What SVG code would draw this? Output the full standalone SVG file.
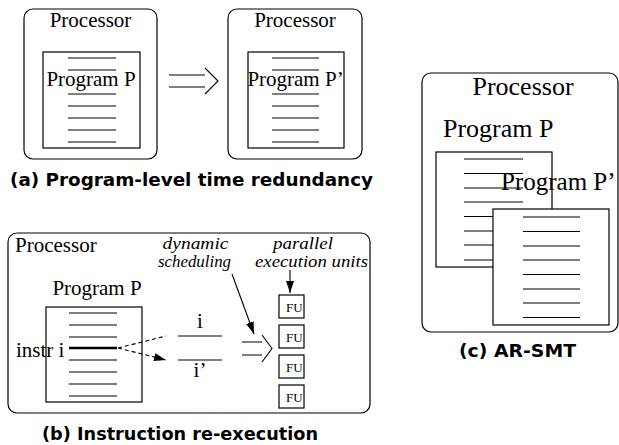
<svg xmlns="http://www.w3.org/2000/svg" width="619" height="445" viewBox="0 0 619 445">
<defs>
<style>
.box{fill:#fff;stroke:#000;stroke-width:1.2}
.ln{stroke:#000;stroke-width:1.1;fill:none}
.t{font-family:"Liberation Serif","Times New Roman",serif;fill:#000}
.ti{font-family:"Liberation Serif","Times New Roman",serif;font-style:italic;fill:#000;font-size:16px}
.cap{font-family:"DejaVu Sans",sans-serif;font-weight:bold;font-size:18px;fill:#000}
.fu{font-family:"Liberation Serif","Times New Roman",serif;font-size:13px;fill:#000}
</style>
<marker id="ah" viewBox="0 0 12 8" refX="12" refY="4" markerWidth="12" markerHeight="8" markerUnits="userSpaceOnUse" orient="auto">
<path d="M0,0 L12,4 L0,8 Z" fill="#000"/>
</marker>
</defs>
<rect width="619" height="445" fill="#fff"/>

<!-- (a) left processor -->
<g id="procA1">
<rect class="box" x="24" y="9" width="133" height="150" rx="9"/>
<text class="t" x="90.5" y="27" font-size="21" text-anchor="middle">Processor</text>
<rect class="box" x="43" y="52" width="97" height="96"/>
<path class="ln" d="M68,58H116M68,70H116M68,94H116M68,106H116M68,118H116M68,130H116M68,142H116"/>
<text class="t" x="91" y="86" font-size="21" text-anchor="middle">Program P</text>
</g>

<!-- (a) right processor -->
<g id="procA2">
<rect class="box" x="228" y="9" width="134" height="150" rx="9"/>
<text class="t" x="295" y="27" font-size="21" text-anchor="middle">Processor</text>
<rect class="box" x="248" y="52" width="96" height="96"/>
<path class="ln" d="M272,58H319M272,70H319M272,94H319M272,106H319M272,118H319M272,130H319M272,142H319"/>
<text class="t" x="295.5" y="86" font-size="21" text-anchor="middle">Program P’</text>
</g>

<text class="cap" x="10" y="186" textLength="363" lengthAdjust="spacingAndGlyphs">(a) Program-level time redundancy</text>

<!-- (b) -->
<g id="procB">
<rect class="box" x="8" y="233" width="362" height="180" rx="9"/>
<text class="t" x="15" y="252" font-size="21">Processor</text>
<text class="ti" x="195.5" y="249" text-anchor="middle" textLength="66" lengthAdjust="spacingAndGlyphs">dynamic</text>
<text class="ti" x="194.5" y="267" text-anchor="middle" textLength="73" lengthAdjust="spacingAndGlyphs">scheduling</text>
<text class="ti" x="303" y="249" text-anchor="middle" textLength="60" lengthAdjust="spacingAndGlyphs">parallel</text>
<text class="ti" x="311.5" y="267" text-anchor="middle" textLength="113" lengthAdjust="spacingAndGlyphs">execution units</text>
</g>
<g id="progB">
<text class="t" x="97" y="295" font-size="21" text-anchor="middle">Program P</text>
<rect class="box" x="46" y="307" width="96" height="95"/>
<path class="ln" d="M69,313H117M69,325H117M69,337H117M69,360H117M69,372H117M69,384H117M69,396H117"/>
<path d="M69,348H117" stroke="#000" stroke-width="2.6"/>
<text class="t" x="16" y="357" font-size="21">instr i</text>
</g>
<g id="copies">
<path class="ln" d="M178,336H222M178,360H222"/>
<text class="t" x="200" y="328" font-size="21" text-anchor="middle">i</text>
<text class="t" x="200" y="377" font-size="21" text-anchor="middle">i’</text>
</g>
<g id="fus">
<rect class="box" x="279" y="295" width="25" height="23"/>
<rect class="box" x="279" y="325" width="25" height="23"/>
<rect class="box" x="279" y="355" width="25" height="23"/>
<rect class="box" x="279" y="385" width="25" height="23"/>
<text class="fu" x="286" y="312">FU</text>
<text class="fu" x="286" y="342">FU</text>
<text class="fu" x="286" y="372">FU</text>
<text class="fu" x="286" y="402">FU</text>
</g>

<text class="cap" x="42" y="440" textLength="276" lengthAdjust="spacingAndGlyphs">(b) Instruction re-execution</text>

<!-- (c) -->
<g id="procC">
<rect class="box" x="422" y="73" width="196" height="259" rx="9"/>
<text class="t" x="523" y="95" font-size="26" text-anchor="middle">Processor</text>
</g>
<g id="progC1">
<text class="t" x="443" y="137" font-size="26">Program P</text>
<rect class="box" x="436" y="152" width="116" height="115"/>
<path class="ln" d="M464,159H523M464,173.5H523M464,188H523M464,202H523M464,216.5H523M464,231H523M464,245H523M464,260H523"/>
</g>
<g id="progC2">
<text class="t" x="501" y="190" font-size="25">Program P’</text>
<rect class="box" x="493" y="209" width="116" height="116"/>
<path class="ln" d="M523,217H580M523,231.5H580M523,246H580M523,260H580M523,274.5H580M523,289H580M523,303H580M523,317.5H580"/>
</g>

<text class="cap" x="459" y="357" textLength="117" lengthAdjust="spacingAndGlyphs">(c) AR-SMT</text>

<!-- connectors -->
<g id="connectors">
<path class="ln" d="M169,75H205M169,87H205M205,68L218,81L205,94"/>
<path class="ln" d="M242,342H262M242,355H262M262,335L272,348.5L262,362"/>
<path class="ln" d="M118,348L166,336M118,348L166,360" stroke-dasharray="4,3" marker-end="url(#ah)"/>
<path class="ln" d="M232,274L254,334" marker-end="url(#ah)"/>
<path class="ln" d="M290,270L290,293" marker-end="url(#ah)"/>
</g>
</svg>
